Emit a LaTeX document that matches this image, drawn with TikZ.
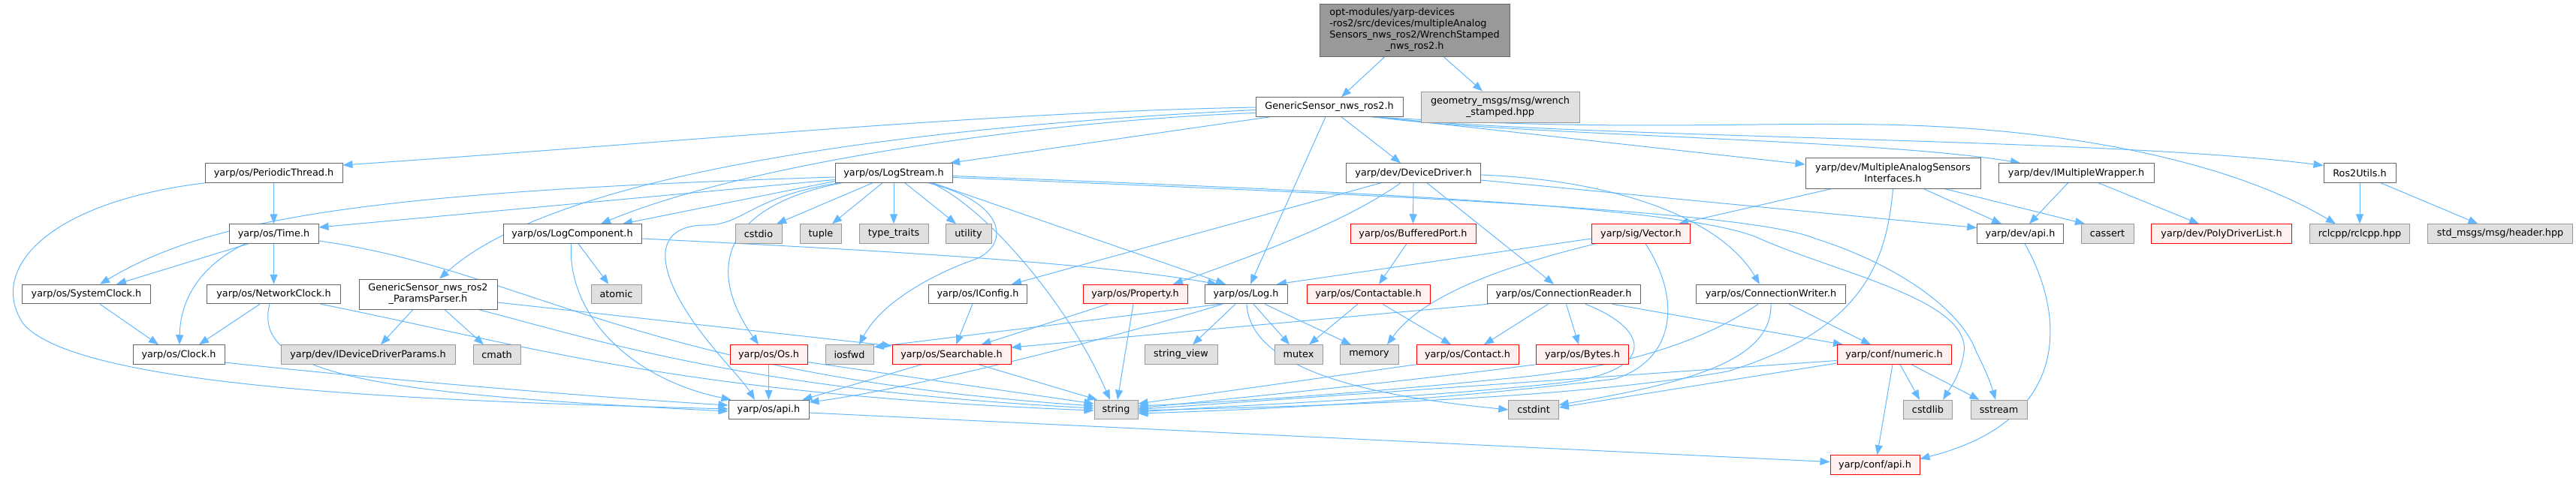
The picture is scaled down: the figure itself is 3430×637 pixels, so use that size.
\documentclass[tikz,border=0pt]{standalone}
\usepackage{fontspec}
\setmainfont{DejaVu Sans}
\usetikzlibrary{arrows.meta}
\definecolor{edgeblue}{HTML}{63B8FF}
\definecolor{nodegrey}{HTML}{666666}
\definecolor{extborder}{HTML}{999999}
\definecolor{extfill}{HTML}{E0E0E0}
\definecolor{redfill}{HTML}{FFF0F0}
\definecolor{mainfill}{HTML}{999999}
\pgfdeclarelayer{bg}
\pgfsetlayers{bg,main}
\begin{document}
\begin{tikzpicture}[x=1pt,y=-1pt,
  base/.style={rectangle, line width=1pt, inner sep=1pt, minimum height=25.5pt, font=\fontsize{12.8}{15}\selectfont, text=black},
  wnode/.style={base, draw=nodegrey, fill=white},
  gnode/.style={base, draw=extborder, fill=extfill},
  rnode/.style={base, draw=red, fill=redfill},
  mnode/.style={base, draw=nodegrey, fill=mainfill},
  dep/.style={draw=edgeblue, line width=1pt, -{Triangle[length=13pt,width=10pt]}}]
\useasboundingbox (0,0) rectangle (3430,637);

% row 0
\node[mnode, minimum width=253pt, minimum height=70pt] (main) at (1883.5,40) {\begin{tabular}{@{}l@{}}opt-modules/yarp-devices\\-ros2/src/devices/multipleAnalog\\Sensors\_nws\_ros2/WrenchStamped\\\multicolumn{1}{@{}c@{}}{\_nws\_ros2.h}\end{tabular}};
% row 1
\node[wnode, minimum width=196pt] (gs) at (1770,142.5) {GenericSensor\_nws\_ros2.h};
\node[gnode, minimum width=211pt, minimum height=41pt, align=center] (geo) at (1997.5,142.5) {geometry\_msgs/msg/wrench\\\_stamped.hpp};
% row 2
\node[wnode, minimum width=183pt] (pt) at (364.5,230.5) {yarp/os/PeriodicThread.h};
\node[wnode, minimum width=156pt] (ls) at (1190,230.5) {yarp/os/LogStream.h};
\node[wnode, minimum width=178.5pt] (dd) at (1882,230.5) {yarp/dev/DeviceDriver.h};
\node[wnode, minimum width=233pt, minimum height=41pt, align=center] (masi) at (2520.5,230.5) {yarp/dev/MultipleAnalogSensors\\Interfaces.h};
\node[wnode, minimum width=207pt] (imw) at (2764.5,230.5) {yarp/dev/IMultipleWrapper.h};
\node[wnode, minimum width=96pt] (r2u) at (3142,230.5) {Ros2Utils.h};
% row 3
\node[wnode, minimum width=119pt] (time) at (364.5,311.5) {yarp/os/Time.h};
\node[wnode, minimum width=184pt] (lc) at (762,311.5) {yarp/os/LogComponent.h};
\node[gnode, minimum width=62pt] (cstdio) at (1010,311.5) {cstdio};
\node[gnode, minimum width=55.5pt] (tuple) at (1093,311.5) {tuple};
\node[gnode, minimum width=92pt] (typetraits) at (1190,311.5) {type\_traits};
\node[gnode, minimum width=61pt] (utility) at (1289.5,311.5) {utility};
\node[rnode, minimum width=167pt] (bp) at (1881.5,311.5) {yarp/os/BufferedPort.h};
\node[rnode, minimum width=131.5pt] (vec) at (2185,311.5) {yarp/sig/Vector.h};
\node[wnode, minimum width=114.5pt] (devapi) at (2690,311.5) {yarp/dev/api.h};
\node[gnode, minimum width=70pt] (cassert) at (2806,311.5) {cassert};
\node[rnode, minimum width=187.6pt] (pdl) at (2958,311.5) {yarp/dev/PolyDriverList.h};
\node[gnode, minimum width=132.5pt] (rcl) at (3142,311.5) {rclcpp/rclcpp.hpp};
\node[gnode, minimum width=192.5pt] (stdmsg) at (3329,311.5) {std\_msgs/msg/header.hpp};
% row 4
\node[wnode, minimum width=170.5pt] (sysclk) at (115,392) {yarp/os/SystemClock.h};
\node[wnode, minimum width=177.5pt] (netclk) at (364.5,392) {yarp/os/NetworkClock.h};
\node[wnode, minimum width=184pt, minimum height=40pt, align=center] (gpp) at (570,392) {GenericSensor\_nws\_ros2\\\_ParamsParser.h};
\node[gnode, minimum width=67pt] (atomic) at (820.5,392) {atomic};
\node[wnode, minimum width=130.5pt] (iconfig) at (1302,392) {yarp/os/IConfig.h};
\node[rnode, minimum width=139pt] (prop) at (1511.5,392) {yarp/os/Property.h};
\node[wnode, minimum width=110pt] (log) at (1659,392) {yarp/os/Log.h};
\node[rnode, minimum width=164pt] (contactable) at (1822,392) {yarp/os/Contactable.h};
\node[wnode, minimum width=204pt] (cr) at (2082,392) {yarp/os/ConnectionReader.h};
\node[wnode, minimum width=199.6pt] (cw) at (2358,392) {yarp/os/ConnectionWriter.h};
% row 5
\node[wnode, minimum width=122pt] (clock) at (238,472.5) {yarp/os/Clock.h};
\node[gnode, minimum width=232pt] (iddp) at (490,472.5) {yarp/dev/IDeviceDriverParams.h};
\node[gnode, minimum width=63pt] (cmath) at (661.5,472.5) {cmath};
\node[rnode, minimum width=103pt] (os) at (1023.5,472.5) {yarp/os/Os.h};
\node[gnode, minimum width=64pt] (iosfwd) at (1131,472.5) {iosfwd};
\node[rnode, minimum width=158pt] (searchable) at (1267,472.5) {yarp/os/Searchable.h};
\node[gnode, minimum width=97pt] (stringview) at (1572.5,472.5) {string\_view};
\node[gnode, minimum width=64pt] (mutex) at (1729,472.5) {mutex};
\node[gnode, minimum width=78pt] (memory) at (1823,472.5) {memory};
\node[rnode, minimum width=136pt] (contact) at (1954,472.5) {yarp/os/Contact.h};
\node[rnode, minimum width=123.5pt] (bytes) at (2107,472.5) {yarp/os/Bytes.h};
\node[rnode, minimum width=152pt] (numeric) at (2522,472.5) {yarp/conf/numeric.h};
% row 6
\node[wnode, minimum width=107pt] (osapi) at (1023.5,546) {yarp/os/api.h};
\node[gnode, minimum width=58pt] (string) at (1486,546) {string};
\node[gnode, minimum width=66.5pt] (cstdint) at (2042,546) {cstdint};
\node[gnode, minimum width=65.5pt] (cstdlib) at (2567,546) {cstdlib};
\node[gnode, minimum width=75pt] (sstream) at (2661.5,546) {sstream};
% row 7
\node[rnode, minimum width=119pt] (confapi) at (2496.5,619.5) {yarp/conf/api.h};

\begin{pgfonlayer}{bg}
% main
\draw[dep] ([xshift=-39.5pt]main.south) -- ([xshift=16pt]gs.north);
\draw[dep] ([xshift=38.5pt]main.south) -- ([xshift=-23.5pt]geo.north);
% GenericSensor_nws_ros2.h
\draw[dep] ([yshift=-0.5pt]gs.west) .. controls (1300,150) and (900,190) .. ([yshift=10.5pt]pt.east);
\draw[dep] ([yshift=-4pt]gs.west) .. controls (1150,172) and (730,240) .. ([xshift=15pt]gpp.north);
\draw[dep] ([yshift=-8pt]gs.west) .. controls (1400,160) and (1000,215) .. ([xshift=38pt]lc.north);
\draw[dep] ([xshift=-79pt]gs.south) -- ([xshift=75pt]ls.north);
\draw[dep] ([xshift=-5pt]gs.south) -- ([xshift=6pt]log.north);
\draw[dep] ([xshift=16pt]gs.south) -- ([xshift=-17pt]dd.north);
\draw[dep] ([xshift=62pt]gs.south) -- ([yshift=11.5pt]masi.west);
\draw[dep] ([xshift=60pt]gs.south) .. controls (2000,180) and (2500,185) .. ([xshift=-74.5pt]imw.north);
\draw[dep] ([xshift=58pt]gs.south) .. controls (2100,185) and (2800,183) .. ([yshift=10pt]r2u.west);
\draw[dep] ([xshift=56pt]gs.south) .. controls (2150,175) and (2300,163) .. (2502,166) .. controls (2750,170) and (2970,215) .. ([xshift=-32pt]rcl.north);
% PeriodicThread
\draw[dep] (pt.south) -- (time.north);
\draw[dep] ([xshift=-91.5pt]pt.south) .. controls (60,270) and (-15,360) .. (30,430) .. controls (100,520) and (600,535) .. ([yshift=1pt]osapi.west);
% Time
\draw[dep] ([xshift=-33.5pt]time.south) -- ([xshift=40pt]sysclk.north);
\draw[dep] ([xshift=-38pt]time.south) .. controls (265,355) and (240,400) .. ([xshift=1pt]clock.north);
\draw[dep] (time.south) -- (netclk.north);
\draw[dep] ([yshift=-9.5pt]time.east) .. controls (700,360) and (850,500) .. ([yshift=5pt]string.west);
% LogStream
\draw[dep] ([yshift=-5.5pt]ls.west) .. controls (500,255) and (280,290) .. ([xshift=18pt]sysclk.north);
\draw[dep] ([yshift=-9pt]ls.west) -- ([yshift=8.5pt]time.east);
\draw[dep] ([yshift=-11pt]ls.west) -- ([xshift=67pt]lc.north);
\draw[dep] ([xshift=-73pt]ls.south) .. controls (1000,262) and (990,300) .. (940,300) .. controls (880,300) and (875,340) .. (900,390) .. controls (930,450) and (985,500) .. ([xshift=-18.5pt]osapi.north);
\draw[dep] ([xshift=-69pt]ls.south) .. controls (960,275) and (940,360) .. ([xshift=-13.5pt]os.north);
\draw[dep] ([xshift=-28pt]ls.south) -- ([xshift=24pt]cstdio.north);
\draw[dep] ([xshift=-15pt]ls.south) -- ([xshift=15pt]tuple.north);
\draw[dep] (ls.south) -- (typetraits.north);
\draw[dep] ([xshift=15pt]ls.south) -- ([xshift=-16.5pt]utility.north);
\draw[dep] ([xshift=46pt]ls.south) .. controls (1340,270) and (1345,325) .. (1300,345) .. controls (1250,362) and (1175,400) .. ([xshift=13pt]iosfwd.north);
\draw[dep] ([xshift=50pt]ls.south) .. controls (1310,275) and (1420,400) .. ([xshift=-8pt]string.north);
\draw[dep] ([xshift=52pt]ls.south) -- ([xshift=-27pt]log.north);
\draw[dep] ([yshift=-4pt]ls.east) .. controls (1800,255) and (2250,275) .. (2343,318) .. controls (2450,365) and (2625,400) .. (2615,470) .. controls (2610,500) and (2598,515) .. ([xshift=20pt]cstdlib.north);
\draw[dep] ([yshift=-6pt]ls.east) .. controls (1800,258) and (2330,280) .. (2417,318) .. controls (2520,350) and (2610,410) .. (2631,468) .. controls (2645,495) and (2652,515) .. ([xshift=-4.5pt]sstream.north);
% DeviceDriver
\draw[dep] (dd.south) -- (bp.north);
\draw[dep] ([xshift=-43pt]dd.south) -- ([xshift=45pt]iconfig.north);
\draw[dep] ([xshift=-17pt]dd.south) .. controls (1800,290) and (1700,330) .. ([xshift=50.5pt]prop.north);
\draw[dep] ([xshift=18pt]dd.south) -- ([xshift=-13pt]cr.north);
\draw[dep] ([yshift=-9.5pt]dd.east) -- ([yshift=8pt]devapi.west);
\draw[dep] ([yshift=-2.5pt]dd.east) .. controls (2150,240) and (2290,290) .. ([xshift=-15pt]cw.north);
% MultipleAnalogSensorsInterfaces
\draw[dep] ([xshift=40.5pt]masi.south) -- ([xshift=-25pt]devapi.north);
\draw[dep] ([xshift=68.5pt]masi.south) -- ([xshift=-30pt]cassert.north);
\draw[dep] ([xshift=-81.5pt]masi.south) -- ([xshift=50pt]vec.north);
\draw[dep] (masi.south) .. controls (2512,350) and (2480,440) .. (2300,495) .. controls (2100,530) and (1800,540) .. ([yshift=-1pt]string.east);
% IMultipleWrapper, Ros2Utils
\draw[dep] ([xshift=-11pt]imw.south) -- ([xshift=12pt]devapi.north);
\draw[dep] ([xshift=29.5pt]imw.south) -- ([xshift=-30pt]pdl.north);
\draw[dep] (r2u.south) -- (rcl.north);
\draw[dep] ([xshift=28pt]r2u.south) -- ([xshift=-29.5pt]stdmsg.north);
% clocks
\draw[dep] ([xshift=-18.5pt]netclk.south) -- ([xshift=27pt]clock.north);
\draw[dep] ([xshift=-5.5pt]netclk.south) .. controls (335,500) and (500,525) .. ([yshift=-2pt]osapi.west);
\draw[dep] ([xshift=62.5pt]netclk.south) .. controls (700,460) and (900,525) .. ([yshift=-1pt]string.west);
\draw[dep] ([xshift=18pt]sysclk.south) -- ([xshift=-27pt]clock.north);
\draw[dep] ([yshift=-10.5pt]clock.east) .. controls (500,505) and (800,530) .. ([yshift=6pt]osapi.west);
% ParamsParser
\draw[dep] ([xshift=-20pt]gpp.south) -- ([xshift=17pt]iddp.north);
\draw[dep] ([xshift=22pt]gpp.south) -- ([xshift=-17.5pt]cmath.north);
\draw[dep] ([yshift=-11pt]gpp.east) -- ([yshift=11.5pt]searchable.west);
\draw[dep] ([xshift=67pt]gpp.south) .. controls (800,455) and (1000,520) .. ([yshift=2pt]string.west);
% LogComponent
\draw[dep] ([xshift=8pt]lc.south) -- ([xshift=-10pt]atomic.north);
\draw[dep] ([xshift=-1.5pt]lc.south) .. controls (755,420) and (840,505) .. ([xshift=-50pt]osapi.north);
\draw[dep] ([yshift=-6.5pt]lc.east) .. controls (1100,330) and (1450,348) .. ([xshift=-38pt]log.north);
% Os, Searchable, Property, IConfig
\draw[dep] (os.south) -- (osapi.north);
\draw[dep] ([yshift=-10pt]os.east) -- ([yshift=8pt]string.west);
\draw[dep] ([xshift=-40pt]searchable.south) -- ([xshift=45pt]osapi.north);
\draw[dep] ([xshift=36pt]searchable.south) -- ([xshift=-25pt]string.north);
\draw[dep] ([xshift=-36.5pt]prop.south) -- ([xshift=39.5pt]searchable.north);
\draw[dep] ([xshift=-2.5pt]prop.south) -- ([xshift=2pt]string.north);
\draw[dep] ([xshift=-7pt]iconfig.south) -- ([xshift=6pt]searchable.north);
% Log
\draw[dep] ([xshift=-14pt]log.south) -- ([xshift=15.5pt]stringview.north);
\draw[dep] ([xshift=10pt]log.south) -- ([xshift=-12pt]mutex.north);
\draw[dep] ([xshift=25pt]log.south) -- ([xshift=-24pt]memory.north);
\draw[dep] ([xshift=1pt]log.south) .. controls (1665,500) and (1850,530) .. (cstdint.west);
\draw[dep] ([xshift=-34pt]log.south) -- ([yshift=10pt]iosfwd.east);
\draw[dep] ([xshift=-31pt]log.south) .. controls (1450,460) and (1200,520) .. ([yshift=10pt]osapi.east);
% Contactable, BufferedPort
\draw[dep] ([xshift=-14pt]contactable.south) -- ([xshift=14pt]mutex.north);
\draw[dep] ([xshift=19pt]contactable.south) -- ([xshift=-22pt]contact.north);
\draw[dep] ([xshift=-8.5pt]bp.south) -- ([xshift=14pt]contactable.north);
% ConnectionReader
\draw[dep] ([xshift=-20.5pt]cr.south) -- ([xshift=22pt]contact.north);
\draw[dep] ([xshift=3.5pt]cr.south) -- ([xshift=-5pt]bytes.north);
\draw[dep] ([xshift=2pt]cr.south west) -- ([yshift=9.5pt]searchable.east);
\draw[dep] ([xshift=65pt]cr.south) -- ([xshift=-68pt]numeric.north);
\draw[dep] ([xshift=29pt]cr.south) .. controls (2200,440) and (2205,495) .. (2080,510) .. controls (1900,530) and (1650,540) .. ([yshift=-3pt]string.east);
% ConnectionWriter
\draw[dep] ([xshift=24pt]cw.south) -- ([xshift=-31pt]numeric.north);
\draw[dep] (cw.south) .. controls (2360,480) and (2250,510) .. ([yshift=6.5pt]cstdint.east);
\draw[dep] ([xshift=-17pt]cw.south) .. controls (2260,460) and (2150,492) .. (2000,505) .. controls (1800,525) and (1650,535) .. ([yshift=5pt]string.east);
% Contact, Bytes
\draw[dep] (contact.south west) -- ([yshift=8pt]string.east);
\draw[dep] (bytes.south west) .. controls (1900,505) and (1700,525) .. ([yshift=2pt]string.east);
% numeric
\draw[dep] ([xshift=8pt]numeric.south) -- ([xshift=-11pt]cstdlib.north);
\draw[dep] ([xshift=23pt]numeric.south) -- ([xshift=-26pt]sstream.north);
\draw[dep] ([xshift=-2pt]numeric.south) -- ([xshift=3pt]confapi.north);
\draw[dep] ([yshift=-11.5pt]numeric.west) -- ([yshift=3pt]cstdint.east);
\draw[dep] ([yshift=-8pt]numeric.west) -- ([yshift=0.5pt]string.east);
% Vector
\draw[dep] ([yshift=-6.5pt]vec.west) -- ([xshift=41pt]log.north);
\draw[dep] ([xshift=-60pt]vec.south) .. controls (1980,360) and (1890,400) .. ([xshift=24pt]memory.north);
\draw[dep] ([xshift=6pt]vec.south) .. controls (2240,400) and (2230,480) .. (2150,505) .. controls (1900,535) and (1700,545) .. ([yshift=-5pt]string.east);
% api
\draw[dep] ([xshift=6pt]devapi.south) .. controls (2750,420) and (2760,560) .. ([yshift=8pt]confapi.east);
\draw[dep] ([yshift=-4pt]osapi.east) -- ([yshift=4pt]confapi.west);
\end{pgfonlayer}
\end{tikzpicture}
\end{document}
